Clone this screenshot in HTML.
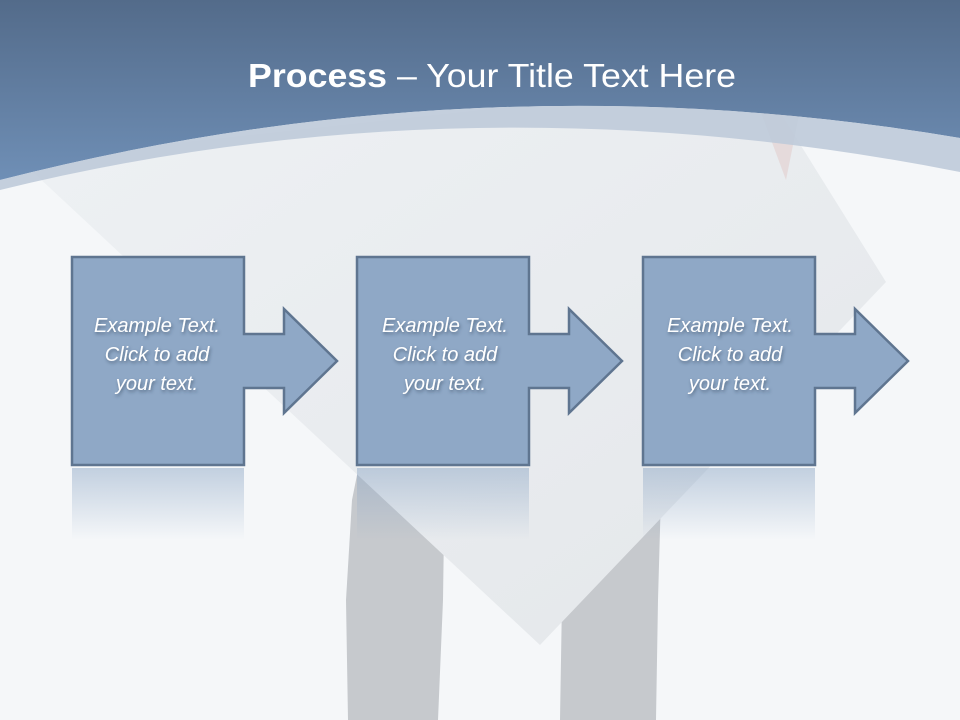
<!DOCTYPE html>
<html><head><meta charset="utf-8"><style>
html,body{margin:0;padding:0;width:960px;height:720px;overflow:hidden;background:#f5f7f9}
svg{display:block}
</style></head><body>
<svg width="960" height="720" viewBox="0 0 960 720" xmlns="http://www.w3.org/2000/svg">
<defs>
<linearGradient id="top" x1="0" y1="0" x2="0" y2="1">
<stop offset="0" stop-color="#536b8a"/><stop offset="1" stop-color="#6f8fb6"/>
</linearGradient>
<linearGradient id="paper" x1="0" y1="0" x2="1" y2="1">
<stop offset="0" stop-color="#eef1f4"/><stop offset="1" stop-color="#e4e7ea"/>
</linearGradient>
<linearGradient id="refl" x1="0" y1="0" x2="0" y2="1">
<stop offset="0" stop-color="#8fa8c6" stop-opacity="0.5"/><stop offset="1" stop-color="#8fa8c6" stop-opacity="0"/>
</linearGradient>
<filter id="sh" x="-10%" y="-10%" width="120%" height="130%">
<feDropShadow dx="1" dy="2" stdDeviation="1.5" flood-color="#2a3a50" flood-opacity="0.55"/>
</filter>
</defs>
<rect width="960" height="720" fill="#f5f7f9"/>
<!-- legs -->
<path d="M360,460 L445,460 L443,600 L438,720 L348,720 L346,600 L352,500 Z" fill="#c6c9cd"/>
<path d="M565,460 L662,460 L658,600 L656,720 L560,720 L562,600 Z" fill="#c6c9cd"/>
<!-- paper -->
<polygon points="20,160 760,80 886,282 540,645" fill="url(#paper)"/>
<polygon points="760,110 800,110 786,180" fill="#e3d6d6" opacity="0.8"/>
<!-- top band -->
<path d="M0,0 H960 V138 Q480,57 0,180 Z" fill="url(#top)"/>
<path d="M0,180 Q480,57 960,138 V172 Q470,75 0,190 Z" fill="#bfcbda" opacity="0.92"/>
<text x="492" y="87" text-anchor="middle" font-family="Liberation Sans, sans-serif" font-size="33" fill="#ffffff" textLength="488" lengthAdjust="spacingAndGlyphs"><tspan font-weight="bold">Process</tspan> – Your Title Text Here</text>
<!-- shapes -->
<g>
<rect x="72" y="468" width="172" height="72" fill="url(#refl)"/>
<rect x="357" y="468" width="172" height="72" fill="url(#refl)"/>
<rect x="643" y="468" width="172" height="72" fill="url(#refl)"/>
</g>
<g fill="#8fa8c6" stroke="#5f7590" stroke-width="2.5" stroke-linejoin="miter">
<path d="M72,257 H244 V334 H284 V309 L337,361 L284,413 V388 H244 V465 H72 Z"/>
<path d="M357,257 H529 V334 H569 V309 L622,361 L569,413 V388 H529 V465 H357 Z"/>
<path d="M643,257 H815 V334 H855 V309 L908,361 L855,413 V388 H815 V465 H643 Z"/>
</g>
<g font-family="Liberation Sans, sans-serif" font-style="italic" font-size="20" fill="#ffffff" text-anchor="middle" filter="url(#sh)">
<text x="157" y="332">Example Text.</text><text x="157" y="361">Click  to add</text><text x="157" y="390">your text.</text>
<text x="445" y="332">Example Text.</text><text x="445" y="361">Click  to add</text><text x="445" y="390">your text.</text>
<text x="730" y="332">Example Text.</text><text x="730" y="361">Click  to add</text><text x="730" y="390">your text.</text>
</g>
</svg>
</body></html>
